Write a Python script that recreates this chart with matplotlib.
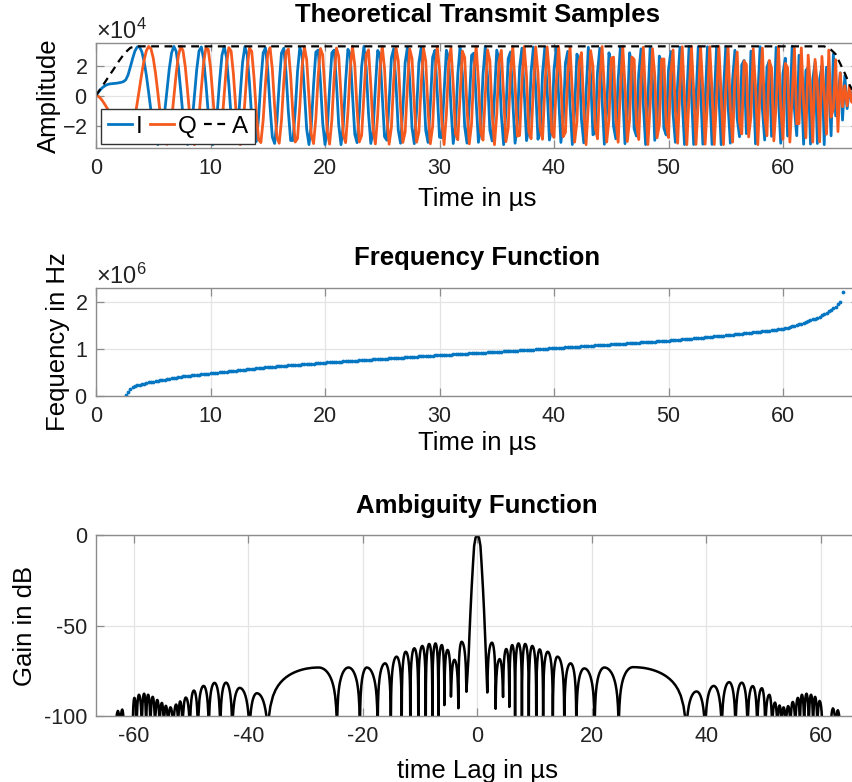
import numpy as np
import matplotlib
matplotlib.use("Agg")
import matplotlib.pyplot as plt
from matplotlib.ticker import ScalarFormatter

# ---------------- data ----------------
DT_US = 0.2            # sample spacing (µs)
T_END_US = 66.6        # pulse length (µs)
A_MAX = 32767          # full-scale amplitude

# amplitude envelope knots (time µs, relative amplitude)
amp_knot_t = [0.0, 0.5, 1.0, 1.5, 2.0, 2.5, 3.0, 3.4, 63.6, 64.2, 64.6, 65.0, 65.5, 65.9, 66.6]
amp_knot_rel = [0.0, 0.17, 0.35, 0.52, 0.70, 0.86, 0.97, 1.0, 1.0, 0.93, 0.84, 0.65, 0.40, 0.16, 0.0]

# instantaneous frequency knots (time µs, MHz)
freq_knot_t = [0.0, 1.0, 2.0, 2.45, 3.0, 3.5, 4.7, 7.3, 10.0, 14.9, 20.0, 23.6, 28.9, 35.0,
               40.0, 45.0, 50.0, 54.0, 57.4, 59.9, 61.8, 63.2, 64.4, 65.0, 65.25, 66.6]
freq_knot_mhz = [-0.20, -0.08, -0.02, 0.0, 0.17, 0.23, 0.30, 0.41, 0.486, 0.615, 0.713, 0.77, 0.855, 0.94,
                 1.02, 1.10, 1.18, 1.27, 1.355, 1.43, 1.56, 1.70, 1.88, 2.03, 2.5, 3.4]

# ambiguity function: main lobe (|lag| µs, dB)
main_lobe_lag = [0.0, 0.3, 0.55, 0.75, 1.0, 1.2, 1.38, 1.5]
main_lobe_db = [0.0, -1.5, -6.0, -16.0, -30.0, -43.0, -56.0, -66.0]

# ambiguity function, positive lags: nulls and lobe peaks
pos_null_lag = [1.75, 3.2, 4.5, 5.6, 6.6, 7.8, 9.0, 10.3, 11.5, 13.2, 15.2, 17.3, 20.5, 24.7,
                36.5, 39.8, 42.7, 45.1, 47.2, 48.9, 50.3, 51.5, 52.4, 53.15, 53.9, 54.7, 55.55,
                56.35, 57.1, 57.9, 58.65, 59.4, 60.3, 61.7, 62.6, 63.4]
pos_null_db = [-87, -96, -89.5, -95, -105, -105, -105, -105, -105, -105, -105, -105, -105, -105,
               -105, -105, -105, -105, -105, -105, -105, -103, -103, -103, -103, -103, -103,
               -103, -103, -103, -103, -103, -105, -105, -103, -105]
pos_peak_lag = [2.56, 3.9, 5.06, 6.1, 7.2, 8.37, 9.6, 10.9, 12.3, 14.0, 16.3, 18.7, 22.2, 27.2,
                38.3, 41.3, 44.0, 46.2, 48.1, 49.7, 51.0, 52.0, 52.8, 53.5, 54.3, 55.1, 56.0,
                56.7, 57.5, 58.3, 59.0, 59.8, 61.0, 62.1, 63.0]
pos_peak_db = [-59.5, -68.6, -63, -60.8, -59.9, -60.2, -61.3, -63.2, -64.5, -67.2, -70.9, -73.7, -73.2, -73,
               -86.5, -83.4, -81.3, -81.6, -83.5, -84.7, -88.4, -93, -94.8, -96, -95.2, -92.6, -90.2,
               -88.4, -87.8, -88.4, -89.6, -92, -120, -96.7, -98]

# ambiguity function, negative lags (as |lag|): nulls and lobe peaks
neg_null_lag = [1.9, 3.3, 4.6, 5.75, 6.8, 7.85, 9.0, 10.3, 11.7, 13.2, 15.1, 17.4, 20.5, 24.5,
                36.6, 39.8, 42.8, 44.9, 46.9, 48.8, 50.2, 51.5, 52.25, 53.1, 54.0, 54.75, 55.5,
                56.3, 57.1, 57.85, 58.6, 59.5, 60.2, 61.7, 62.4, 63.2]
neg_null_db = [-86.6, -95.7, -89.3, -94, -105, -105, -105, -105, -105, -105, -105, -105, -105, -105,
               -105, -105, -105, -105, -105, -105, -105, -103, -103, -103, -103, -103, -103,
               -103, -103, -103, -103, -103, -105, -105, -103, -105]
neg_peak_lag = [2.73, 4.0, 5.2, 6.2, 7.3, 8.4, 9.6, 11.0, 12.5, 14.1, 16.1, 19.3, 22.5, 27.7,
                38.5, 41.5, 43.9, 45.9, 47.8, 49.5, 50.9, 51.9, 52.6, 53.6, 54.4, 55.1, 55.9,
                56.7, 57.5, 58.2, 59.1, 59.9, 61.0, 62.0, 62.8]
neg_peak_db = [-59, -69, -63.5, -60.8, -59.9, -60.2, -61.3, -62.6, -64.5, -67.2, -70.9, -73.2, -73.2, -73.2,
               -87.5, -84.5, -81.6, -81.7, -83.4, -86, -90, -92.3, -94.2, -96, -95, -93.2, -91.4,
               -89.6, -88.4, -87.8, -88.4, -90.2, -120, -97.5, -98.5]

# ---------------- build the curves ----------------
t_fine = np.arange(0.0, T_END_US + 1e-9, 0.01)
f_fine = np.interp(t_fine, freq_knot_t, freq_knot_mhz)          # MHz
cycles = np.concatenate([[0.0], np.cumsum(0.5 * (f_fine[1:] + f_fine[:-1]) * 0.01)])
step = int(round(DT_US / 0.01))
t = t_fine[::step]
phi = 2 * np.pi * cycles[::step]
A = A_MAX * np.interp(t, amp_knot_t, amp_knot_rel)
I = A * np.cos(phi)
Q = A * np.sin(phi)

z = I + 1j * Q
dphi = np.angle(z[1:] * np.conj(z[:-1]))
f_est = dphi / (2 * np.pi * DT_US * 1e-6)   # Hz
t_f = t[1:]
keep = f_est > 0


def side_curve(null_lag, null_db, peak_lag, peak_db, n=40):
    xs, ys = [], []
    u = np.linspace(0.0, 1.0, n)
    for i in range(len(peak_lag)):
        a, b, c = null_lag[i], null_lag[i + 1], peak_lag[i]
        x = np.where(u < 0.5, a + (c - a) * u / 0.5, c + (b - c) * (u - 0.5) / 0.5)
        floor = np.where(u < 0.5, 10 ** (null_db[i] / 20), 10 ** (null_db[i + 1] / 20))
        lin = 10 ** (peak_db[i] / 20) * np.sin(np.pi * u)
        xs.append(x)
        ys.append(20 * np.log10(np.sqrt(lin ** 2 + floor ** 2)))
    return np.concatenate(xs), np.concatenate(ys)


px, py = side_curve(pos_null_lag, pos_null_db, pos_peak_lag, pos_peak_db)
nx, ny = side_curve(neg_null_lag, neg_null_db, neg_peak_lag, neg_peak_db)
ml_x = np.array(main_lobe_lag)
ml_y = np.array(main_lobe_db)
lag = np.concatenate([-nx[::-1], -ml_x[::-1], ml_x[1:], px])
gain = np.concatenate([ny[::-1], ml_y[::-1], ml_y[1:], py])

# ---------------- figure ----------------
plt.rcParams["font.family"] = ["Liberation Sans", "DejaVu Sans"]
plt.rcParams["mathtext.fontset"] = "custom"
plt.rcParams["mathtext.rm"] = "Liberation Sans"
plt.rcParams["mathtext.it"] = "Liberation Sans:italic"
plt.rcParams["axes.unicode_minus"] = False

W, H = 852, 782
TICK_FS = 15.5
LAB_FS = 18.5
SPINE = "#8c8c8c"
BLUE = "#0576C2"
ORANGE = "#F55A1E"

fig = plt.figure(figsize=(W / 100, H / 100), dpi=100)
left = 96 / W
right_px = 96 + T_END_US * (687.0 / 60.0)
width = (right_px - 96) / W


def rect(top_px, bot_px):
    return [left, 1 - bot_px / H, width, (bot_px - top_px) / H]


def style(ax):
    for s in ax.spines.values():
        s.set_color(SPINE)
        s.set_linewidth(1.0)
    ax.tick_params(direction="in", length=5.5, width=0.9, color=SPINE, labelsize=TICK_FS,
                   labelcolor="#222222", top=True, right=True)
    ax.tick_params(axis="x", pad=7)
    ax.tick_params(axis="y", pad=6)
    ax.grid(True, color="#e4e4e4", linewidth=0.9)
    ax.set_axisbelow(True)


# --- top: transmit samples
ax1 = fig.add_axes(rect(43, 148))
style(ax1)
ax1.plot(t, I, color=BLUE, lw=2.0, label="I")
ax1.plot(t, Q, color=ORANGE, lw=2.0, label="Q")
ax1.plot(t, A, color="black", lw=1.6, ls=(0, (3.5, 2.5)), label="A")
ax1.set_xlim(0, T_END_US)
ax1.set_ylim(-3.5e4, 3.5e4)
ax1.set_xticks([0, 10, 20, 30, 40, 50, 60])
ax1.set_yticks([-2e4, 0, 2e4])
fmt = ScalarFormatter(useMathText=True)
fmt.set_powerlimits((0, 0))
ax1.yaxis.set_major_formatter(fmt)
ax1.yaxis.get_offset_text().set_fontsize(17)
ax1.set_xlabel("Time in µs", fontsize=LAB_FS, va="center")
ax1.xaxis.set_label_coords(0.5, -0.49)
ax1.set_ylabel("Amplitude", fontsize=LAB_FS, va="center")
ax1.yaxis.set_label_coords((49 - 96) / (right_px - 96), 0.5)
ax1.set_title("Theoretical Transmit Samples", fontsize=LAB_FS, fontweight="bold", y=1.124)
leg = ax1.legend(loc="lower left", bbox_to_anchor=(0.0066, 0.035), ncol=3, fontsize=17.5,
                 handlelength=1.0, handletextpad=0.15, columnspacing=0.3, borderpad=0.28,
                 borderaxespad=0.0, fancybox=False, framealpha=1.0, edgecolor="#333333")
leg.get_frame().set_linewidth(1.0)

# --- middle: frequency function
ax2 = fig.add_axes(rect(288, 396))
style(ax2)
ax2.plot(t_f[keep], f_est[keep], ls="none", marker=".", ms=3.4, color=BLUE)
ax2.set_xlim(0, T_END_US)
ax2.set_ylim(0, 2.3e6)
ax2.set_xticks([0, 10, 20, 30, 40, 50, 60])
ax2.set_yticks([0, 1e6, 2e6])
fmt2 = ScalarFormatter(useMathText=True)
fmt2.set_powerlimits((0, 0))
ax2.yaxis.set_major_formatter(fmt2)
ax2.yaxis.get_offset_text().set_fontsize(17)
ax2.set_xlabel("Time in µs", fontsize=LAB_FS, va="center")
ax2.xaxis.set_label_coords(0.5, -0.435)
ax2.set_ylabel("Fequency in Hz", fontsize=LAB_FS, va="center")
ax2.yaxis.set_label_coords((58 - 96) / (right_px - 96), 0.5)
ax2.set_title("Frequency Function", fontsize=LAB_FS, fontweight="bold", y=1.139)

# --- bottom: ambiguity function
ax3 = fig.add_axes(rect(535, 716))
style(ax3)
ax3.plot(lag, gain, color="black", lw=1.8)
ax3.set_xlim(-T_END_US, T_END_US)
ax3.set_ylim(-100, 0)
ax3.set_xticks([-60, -40, -20, 0, 20, 40, 60])
ax3.set_yticks([-100, -50, 0])
ax3.set_xlabel("time Lag in µs", fontsize=LAB_FS, va="center")
ax3.xaxis.set_label_coords(0.5, -0.304)
ax3.set_ylabel("Gain in dB", fontsize=LAB_FS, va="center")
ax3.yaxis.set_label_coords((25 - 96) / (right_px - 96), 0.5)
ax3.set_title("Ambiguity Function", fontsize=LAB_FS, fontweight="bold", y=1.077)

fig.savefig("out.png", dpi=100)
